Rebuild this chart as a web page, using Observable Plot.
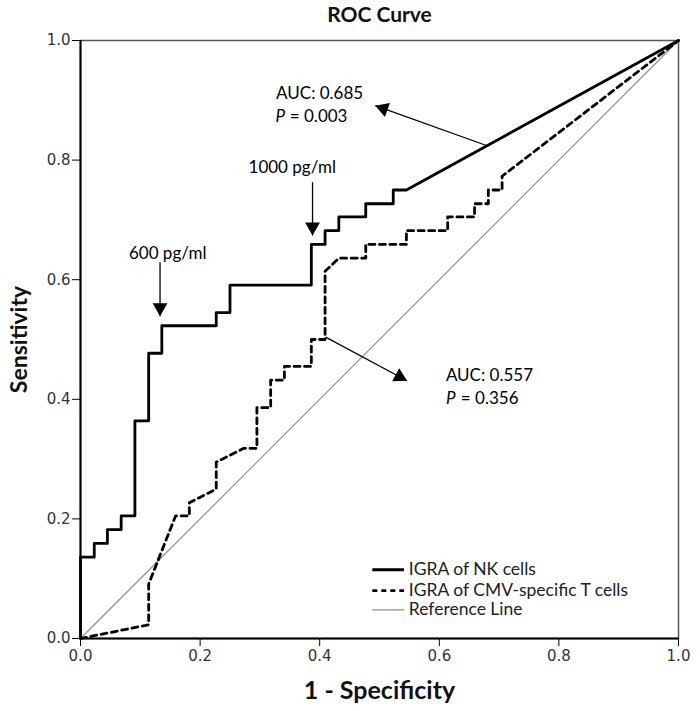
<!DOCTYPE html>
<html>
<head>
<meta charset="utf-8">
<script src="https://cdn.jsdelivr.net/npm/d3@7"></script>
<script src="https://cdn.jsdelivr.net/npm/@observablehq/plot@0.6"></script>
<style>
  html, body { margin: 0; padding: 0; background: #fff; }
  #chart svg { display: block; }
</style>
</head>
<body>
<div id="chart"></div>
<script>
// ---- Data ----
const nkFpr  = [0, 0, 0.023, 0.023, 0.045, 0.045, 0.068, 0.068, 0.091, 0.091, 0.114, 0.114, 0.136, 0.136, 0.227, 0.227, 0.250, 0.250, 0.386, 0.386, 0.409, 0.409, 0.432, 0.432, 0.477, 0.477, 0.523, 0.523, 0.545, 1];
const nkTpr  = [0, 0.136, 0.136, 0.159, 0.159, 0.182, 0.182, 0.205, 0.205, 0.364, 0.364, 0.477, 0.477, 0.523, 0.523, 0.545, 0.545, 0.591, 0.591, 0.659, 0.659, 0.682, 0.682, 0.705, 0.705, 0.727, 0.727, 0.750, 0.750, 1];

const cmvFpr = [0, 0.114, 0.114, 0.159, 0.182, 0.182, 0.227, 0.227, 0.273, 0.295, 0.295, 0.318, 0.318, 0.341, 0.341, 0.386, 0.386, 0.409, 0.409, 0.432, 0.477, 0.477, 0.545, 0.545, 0.614, 0.614, 0.659, 0.659, 0.682, 0.682, 0.705, 0.705, 1];
const cmvTpr = [0, 0.023, 0.091, 0.205, 0.205, 0.227, 0.250, 0.295, 0.318, 0.318, 0.386, 0.386, 0.432, 0.432, 0.455, 0.455, 0.500, 0.500, 0.614, 0.636, 0.636, 0.659, 0.659, 0.682, 0.682, 0.705, 0.705, 0.727, 0.727, 0.750, 0.750, 0.773, 1];

const refX = [0, 1];
const refY = [0, 1];

const xTicks = [0, 0.2, 0.4, 0.6, 0.8, 1.0];
const yTicks = [0, 0.2, 0.4, 0.6, 0.8, 1.0];

const titleText = "ROC Curve";
const xLabel = "1 - Specificity";
const yLabel = "Sensitivity";
const legendLabels = ["IGRA of NK cells", "IGRA of CMV-specific T cells", "Reference Line"];

// annotation texts (anchored in data coordinates)
const noteTexts = [
  {x: 0.327, y: 0.911, text: "AUC: 0.685"},
  {x: 0.281, y: 0.788, text: "1000 pg/ml"},
  {x: 0.081, y: 0.644, text: "600 pg/ml"},
  {x: 0.611, y: 0.440, text: "AUC: 0.557"}
];
const pItalic = [
  {x: 0.326, y: 0.872},
  {x: 0.611, y: 0.401}
];
const pValues = [
  {x: 0.350, y: 0.872, text: "= 0.003"},
  {x: 0.636, y: 0.401, text: "= 0.356"}
];
// arrows: start -> tip
const arrows = [
  {x1: 0.680, y1: 0.824, x2: 0.493, y2: 0.891},
  {x1: 0.388, y1: 0.763, x2: 0.388, y2: 0.674},
  {x1: 0.133, y1: 0.629, x2: 0.133, y2: 0.539},
  {x1: 0.410, y1: 0.504, x2: 0.546, y2: 0.431}
];
// legend rows
const legendRows = [
  {x1: 0.488, x2: 0.541, y: 0.115},
  {x1: 0.488, x2: 0.541, y: 0.080},
  {x1: 0.488, x2: 0.541, y: 0.048}
];

// ---- Build ----
const nk = nkFpr.map((x, i) => ({x, y: nkTpr[i]}));
const cmv = cmvFpr.map((x, i) => ({x, y: cmvTpr[i]}));
const ref = refX.map((x, i) => ({x, y: refY[i]}));

const headR = 5.5;
const headOffset = 2 * Math.sqrt(Math.PI * headR * headR / (3 * Math.sqrt(3))) / 598;
const heads = arrows.map(a => {
  const dx = a.x2 - a.x1, dy = a.y2 - a.y1;
  const len = Math.hypot(dx, dy);
  return {
    x: a.x2 - dx / len * headOffset,
    y: a.y2 - dy / len * headOffset,
    rotate: Math.atan2(dx, dy) * 180 / Math.PI
  };
});

const legendText = legendRows.map((r, i) => ({x: r.x2 + 0.008, y: r.y, text: legendLabels[i]}));

const annFont = "Lato";
const annSize = 17;

const chart = Plot.plot({
  width: 700,
  height: 711,
  marginLeft: 80,
  marginRight: 22,
  marginTop: 40,
  marginBottom: 73,
  x: {domain: [0, 1]},
  y: {domain: [0, 1]},
  style: {fontFamily: "DejaVu Sans", fontSize: "15px", color: "#333", background: "#fff"},
  marks: [
    Plot.frame({stroke: "#555", strokeWidth: 1.5}),
    Plot.line(ref, {x: "x", y: "y", stroke: "#8a8a8a", strokeWidth: 1.2}),
    Plot.line(cmv, {x: "x", y: "y", stroke: "#000", strokeWidth: 2.8, strokeDasharray: "6,4.5"}),
    Plot.line(nk, {x: "x", y: "y", stroke: "#000", strokeWidth: 2.8}),
    Plot.ruleX([0], {stroke: "#000", strokeWidth: 2}),
    Plot.ruleY([0], {stroke: "#000", strokeWidth: 2}),
    Plot.axisX({ticks: xTicks, tickFormat: d3.format(".1f"), tickSize: 8, tickPadding: 4, label: null, fontSize: 15, stroke: "#000"}),
    Plot.axisY({ticks: yTicks, tickFormat: d3.format(".1f"), tickSize: 8, tickPadding: 2, label: null, fontSize: 15, stroke: "#000"}),
    // titles
    Plot.text([titleText], {text: d => d, frameAnchor: "top", lineAnchor: "middle", textAnchor: "middle", dy: -25, fontSize: 21, fontWeight: "bold", fontFamily: "Lato", fill: "#111"}),
    Plot.text([xLabel], {text: d => d, frameAnchor: "bottom", lineAnchor: "middle", textAnchor: "middle", dy: 52, fontSize: 25, fontWeight: "bold", fontFamily: "Lato", fill: "#111"}),
    Plot.text([yLabel], {text: d => d, frameAnchor: "left", lineAnchor: "middle", textAnchor: "middle", dx: -61, rotate: -90, fontSize: 23, fontWeight: "bold", fontFamily: "Lato", fill: "#111"}),
    // annotations
    Plot.link(arrows, {x1: "x1", y1: "y1", x2: "x2", y2: "y2", stroke: "#000", strokeWidth: 1.3}),
    Plot.dot(heads, {x: "x", y: "y", rotate: "rotate", symbol: "triangle", r: headR, fill: "#000", stroke: "none"}),
    Plot.text(noteTexts, {x: "x", y: "y", text: "text", textAnchor: "start", fontSize: annSize, fontFamily: annFont, fill: "#000"}),
    Plot.text(pItalic, {x: "x", y: "y", text: d => "P", textAnchor: "start", fontSize: annSize, fontFamily: annFont, fontStyle: "italic", fill: "#000"}),
    Plot.text(pValues, {x: "x", y: "y", text: "text", textAnchor: "start", fontSize: annSize, fontFamily: annFont, fill: "#000"}),
    // legend
    Plot.link([legendRows[0]], {x1: "x1", x2: "x2", y1: "y", y2: "y", stroke: "#000", strokeWidth: 2.8}),
    Plot.link([legendRows[1]], {x1: "x1", x2: "x2", y1: "y", y2: "y", stroke: "#000", strokeWidth: 2.8, strokeDasharray: "5,4"}),
    Plot.link([legendRows[2]], {x1: "x1", x2: "x2", y1: "y", y2: "y", stroke: "#8a8a8a", strokeWidth: 1.2}),
    Plot.text(legendText, {x: "x", y: "y", text: "text", textAnchor: "start", fontSize: 17.5, fontFamily: "Lato", fill: "#222"})
  ]
});
document.getElementById("chart").appendChild(chart);
</script>
</body>
</html>
